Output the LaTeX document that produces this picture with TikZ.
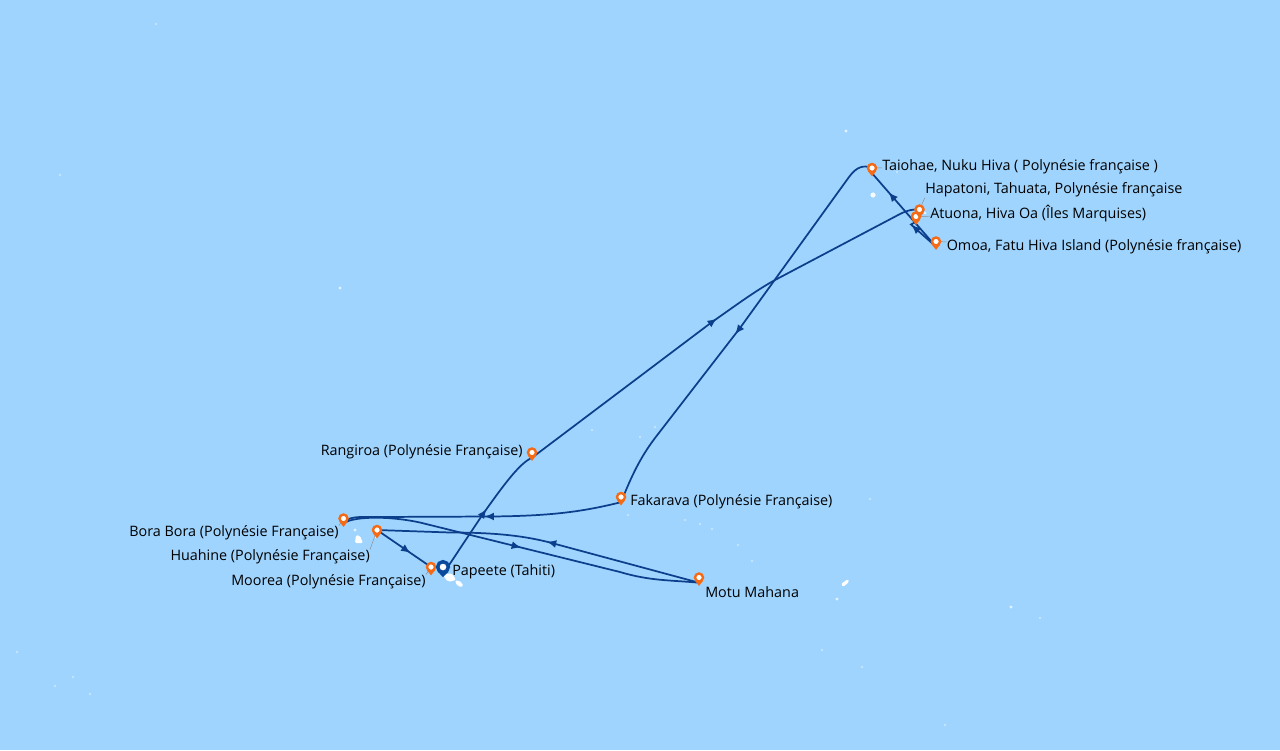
\documentclass[tikz,border=0pt]{standalone}
\usepackage{fontspec}
\setmainfont{Open Sans}
\usetikzlibrary{arrows.meta,backgrounds,decorations.markings}
\definecolor{sea}{HTML}{9FD4FE}
\definecolor{routeblue}{HTML}{0B3F8C}
\definecolor{pinorange}{HTML}{F56A14}
\definecolor{pinblue}{HTML}{0A4A9C}
\tikzset{
  stoppin/.style={circle, draw=pinorange, fill=white, line width=1.8pt, minimum size=6pt, inner sep=0pt},
  homepin/.style={circle, draw=pinblue, fill=white, line width=2.6pt, minimum size=8pt, inner sep=0pt},
  place/.style={anchor=west, inner sep=0pt, font=\fontsize{10.76pt}{12pt}\selectfont, text=black},
  route/.style={draw=routeblue, line width=1.3pt},
  leader/.style={draw=black!45, line width=0.35pt},
  arrowat/.style={postaction={decorate, decoration={markings, mark=at position #1 with {\arrow[routeblue]{Latex[length=7pt,width=6pt]}}}}},
}
\begin{document}
\begin{tikzpicture}[x=0.75pt, y=-0.75pt]
\useasboundingbox (0,0) rectangle (1280,750);

% stops
\node (taiohae)[stoppin] at (872,168) {};
\node (hapatoni)[stoppin] at (919.5,209.5) {};
\node (atuona)[stoppin] at (916,216.5) {};
\node (omoa)[stoppin] at (936,241.5) {};
\node (rangiroa)[stoppin] at (532,452.5) {};
\node (fakarava)[stoppin] at (621,497) {};
\node (bora)[stoppin] at (343.5,518.5) {};
\node (huahine)[stoppin] at (377,530) {};
\node (moorea)[stoppin] at (431,567) {};
\node (motu)[stoppin] at (699,577.5) {};
\node (papeete)[homepin] at (443,567) {};

\foreach \n in {taiohae,hapatoni,atuona,omoa,rangiroa,fakarava,bora,huahine,moorea,motu}
  \fill[pinorange] (\n.south west) -- ([yshift=-2.4pt]\n.south) -- (\n.south east) -- cycle;
\fill[pinblue] (papeete.south west) -- ([yshift=-2.2pt]papeete.south) -- (papeete.south east) -- cycle;

% labels
\node (ltaiohae)[place] at (882,167) {Taiohae, Nuku Hiva ( Polynésie française )};
\node (lhapatoni)[place] at (925,190) {Hapatoni, Tahuata, Polynésie française};
\node (latuona)[place] at (930,214) {Atuona, Hiva Oa (Îles Marquises)};
\node (lomoa)[place] at (946.5,247) {Omoa, Fatu Hiva Island (Polynésie française)};
\node (lrangiroa)[place, anchor=east] at (523,452) {Rangiroa (Polynésie Française)};
\node (lfakarava)[place] at (630,502) {Fakarava (Polynésie Française)};
\node (lbora)[place, anchor=east] at (339,533) {Bora Bora (Polynésie Française)};
\node (lhuahine)[place, anchor=east] at (370,557) {Huahine (Polynésie Française)};
\node (lmoorea)[place, anchor=east] at (426,582) {Moorea (Polynésie Française)};
\node (lpapeete)[place] at (452,572) {Papeete (Tahiti)};
\node (lmotu)[place] at (705,592) {Motu Mahana};

\begin{scope}[on background layer]
\fill[sea] (0,0) rectangle (1280,750);

% islands
\fill[white, rounded corners=1.5] (443,575) -- (452,573) -- (456,580) -- (448,582) -- cycle;
\fill[white, rounded corners=1.5] (455,580) -- (462,582) -- (463,587) -- (457,586) -- cycle;
\fill[white, rounded corners=1] (356,535) -- (360,536) -- (363,543) -- (355,543) -- cycle;
\fill[white, rounded corners=1] (841,584) -- (848,579) -- (849,582) -- (843,587) -- cycle;
\fill[white, opacity=0.9] (873,195) circle (2.6);
\foreach \x/\y in {355/530,376/537,846/131,340/288,837/599,1011/607,925/213}
  \fill[white, opacity=0.7] (\x,\y) circle (1.6);
\foreach \x/\y in {156/24,17/652,55/686,73/677,90/694,60/175,592/430,640/437,655/427,870/499,628/515,685/520,700/524,712/529,738/545,752/561,822/650,1040/618,945/725,862/667,897/172}
  \fill[white, opacity=0.4] (\x,\y) circle (1.4);

% route
\draw[route, arrowat=0.53] (papeete.south) -- (483,514) .. controls (505,483) and (520,463) .. (rangiroa.south);
\draw[route, arrowat=0.50] (rangiroa.south) -- (712,322) .. controls (735,306) and (755,291) .. (775,280) -- (900,214) .. controls (908,210) and (914,209) .. (hapatoni.center);
\draw[route, arrowat=0.84] (omoa.south) -- (911,224.5) -- (atuona.south);
\draw[route, arrowat=0.74] (omoa.south) -- (taiohae.south);
\draw[route, arrowat=0.52] (taiohae.center) .. controls (864,165) and (857,166) .. (849,177) -- (740,328) -- (655,438) .. controls (640,458) and (632,475) .. (fakarava.south);
\draw[route, arrowat=0.49] (fakarava.south) .. controls (585,511) and (555,516) .. (490,516.5) -- (375,517) .. controls (358,517) and (348,516) .. (bora.south);
\draw[route, arrowat=0.50] (bora.south) .. controls (350,517) and (385,515) .. (420,522.5) -- (620,572) .. controls (650,581) and (670,580) .. (motu.south);
\draw[route, arrowat=0.48] (motu.south) -- (548,542) .. controls (520,535) and (490,532.5) .. (450,532.5) -- (huahine.center);
\draw[route, arrowat=0.62] (huahine.center) -- (moorea.center);

% leaders
\draw[leader] (taiohae) -- (ltaiohae);
\draw[leader] (hapatoni) -- (lhapatoni.south west);
\draw[leader] (atuona) -- (latuona);
\draw[leader] (omoa) -- (lomoa);
\draw[leader] (bora) -- (lbora.north east);
\draw[leader] (huahine) -- (lhuahine.north east);
\draw[leader] (moorea) -- (lmoorea.north east);
\end{scope}
\end{tikzpicture}
\end{document}
